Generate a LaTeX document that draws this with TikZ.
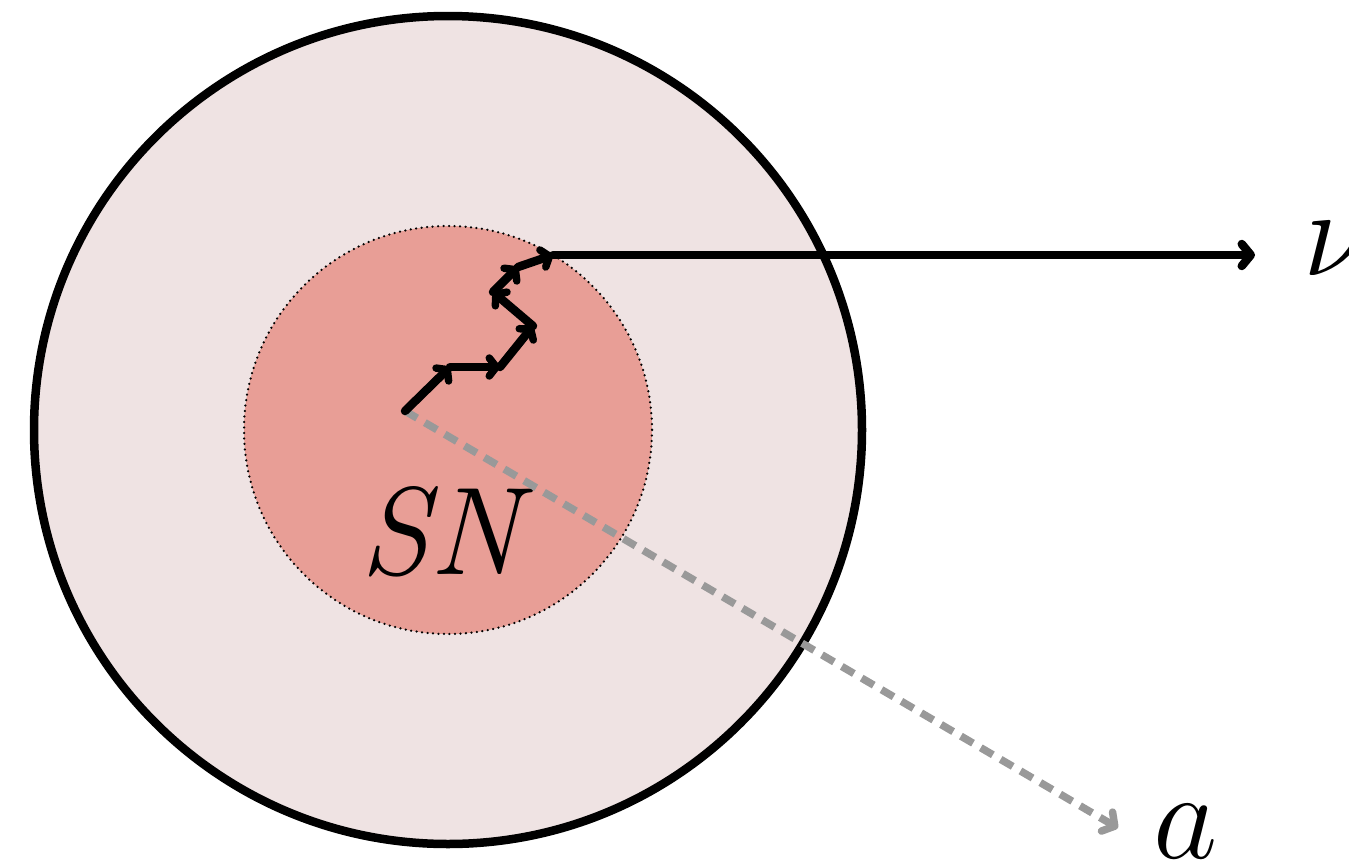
\RequirePackage{fix-cm}
\documentclass[tikz,border=0pt]{standalone}
\usetikzlibrary{arrows.meta}
\definecolor{halo}{HTML}{EFE3E3}
\definecolor{core}{HTML}{E89E96}
\definecolor{axion}{HTML}{999999}
\tikzset{
  walk/.style={line width=8.5pt, line cap=round, line join=round,
    -{Straight Barb[length=7pt,width=18pt,line width=7.5pt,round]}},
  ray/.style={line width=8.5pt, line cap=round,
    -{Straight Barb[length=9pt,width=22pt,line width=8.5pt,round]}},
  dray/.style={line width=7.5pt, color=axion, dash pattern=on 14pt off 9pt,
    -{Straight Barb[length=9pt,width=22pt,line width=7.5pt,round]}},
  lbl/.style={inner sep=0pt, font=\fontsize{125}{125}\selectfont}
}
\begin{document}
\begin{tikzpicture}[x=1pt,y=-1pt]
\useasboundingbox (0,0) rectangle (1349,862);
% star envelope and core
\coordinate (c) at (448,430);
\fill[halo] (c) circle[radius=414];
\draw[line width=8.5pt] (c) circle[radius=414];
\fill[core] (c) circle[radius=204];
\draw[line width=2.5pt, dash pattern=on 0pt off 5.5pt, line cap=round] (c) circle[radius=204];
% random walk of the neutrino through the core
\coordinate (w0) at (405,411);
\coordinate (w1) at (450,367);
\coordinate (w2) at (500,367);
\coordinate (w3) at (533,326);
\coordinate (w4) at (493,292);
\coordinate (w5) at (518,267);
\coordinate (w6) at (553,255);
% escape paths
\coordinate (nuend) at (1255,255);
\coordinate (aend) at (1118,828);
\node[lbl, anchor=base west] (nu) at (1303,275) {$\nu$};
\node[lbl, anchor=base] (a) at (1186,858) {$a$};
\node[lbl, anchor=base] (sn) at (450,574) {$\mathit{SN}$};
\draw[dray] (w0) -- (aend);
\draw[ray] (w6) -- (nuend);
\draw[walk] (w0) -- (w1);
\draw[walk] (w1) -- (w2);
\draw[walk] (w2) -- (w3);
\draw[walk] (w3) -- (w4);
\draw[walk] (w4) -- (w5);
\draw[walk] (w5) -- (w6);
\end{tikzpicture}
\end{document}
